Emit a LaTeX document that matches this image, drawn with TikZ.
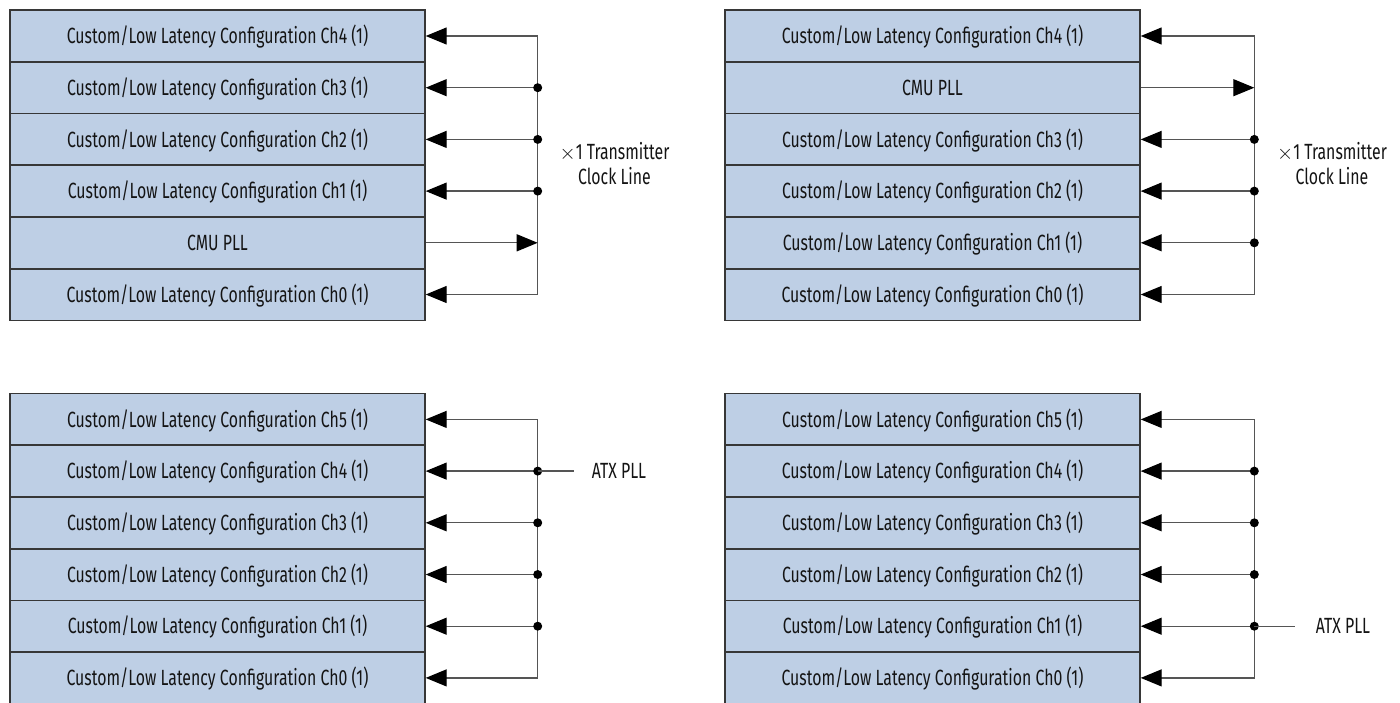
\documentclass[tikz,border=0pt]{standalone}
\usepackage{fontspec}
\setmainfont{Fira Sans}[FakeStretch=0.72]
\usetikzlibrary{arrows.meta}
\definecolor{cellblue}{RGB}{190,207,229}
\definecolor{edgegray}{RGB}{55,55,55}
\definecolor{wiregray}{RGB}{85,85,85}
\definecolor{inkblack}{RGB}{20,20,20}
\newcommand{\timessign}{\raisebox{0.5pt}{$\times$}}
\begin{document}
\begin{tikzpicture}[x=1pt,y=-1pt,
  cell/.style={draw=edgegray, line width=1.7pt, fill=cellblue,
    minimum width=414.7pt, minimum height=51.7pt, inner sep=0pt,
    text height=15.2pt, text depth=0pt, anchor=north west,
    font=\fontsize{22}{26}\selectfont, text=inkblack},
  lbl/.style={inner sep=0pt, font=\fontsize{22}{25}\selectfont, text=inkblack},
  wire/.style={draw=wiregray, line width=1.3pt},
  tipa/.tip={Triangle[length=21pt,width=17pt,fill=black,color=black]},
  junc/.style={circle, fill=black, inner sep=0pt, minimum size=9pt}]
\useasboundingbox (0,0) rectangle (1400,702);
\clip (0,0) rectangle (1400,702);
% ---------- top left ----------
\node[cell] (A4) at (9.3,9.3)   {Custom/Low Latency Configuration Ch4 (1)};
\node[cell] (A3) at (9.3,61.0)  {Custom/Low Latency Configuration Ch3 (1)};
\node[cell] (A2) at (9.3,112.7) {Custom/Low Latency Configuration Ch2 (1)};
\node[cell] (A1) at (9.3,164.4) {Custom/Low Latency Configuration Ch1 (1)};
\node[cell] (Ap) at (9.3,216.1) {CMU PLL};
\node[cell] (A0) at (9.3,267.8) {Custom/Low Latency Configuration Ch0 (1)};
\coordinate (busA) at (537.7,0);
\draw[wire,tipa-tipa] (A4.east) -- (A4.east -| busA) -- (A0.east -| busA) -- (A0.east);
\draw[wire,-tipa] (A3.east -| busA) -- (A3.east);
\draw[wire,-tipa] (A2.east -| busA) -- (A2.east);
\draw[wire,-tipa] (A1.east -| busA) -- (A1.east);
\draw[wire,-tipa] (Ap.east) -- (Ap.east -| busA);
\node[junc] (jA3) at (A3.east -| busA) {};
\node[junc] (jA2) at (A2.east -| busA) {};
\node[junc] (jA1) at (A1.east -| busA) {};
\node[lbl, align=center] (labA) at (614.5,164) {\timessign1 Transmitter\\Clock Line};
% ---------- top right ----------
\node[cell] (B4) at (724.3,9.3)   {Custom/Low Latency Configuration Ch4 (1)};
\node[cell] (Bp) at (724.3,61.0)  {CMU PLL};
\node[cell] (B3) at (724.3,112.7) {Custom/Low Latency Configuration Ch3 (1)};
\node[cell] (B2) at (724.3,164.4) {Custom/Low Latency Configuration Ch2 (1)};
\node[cell] (B1) at (724.3,216.1) {Custom/Low Latency Configuration Ch1 (1)};
\node[cell] (B0) at (724.3,267.8) {Custom/Low Latency Configuration Ch0 (1)};
\coordinate (busB) at (1254.3,0);
\draw[wire,tipa-tipa] (B4.east) -- (B4.east -| busB) -- (B0.east -| busB) -- (B0.east);
\draw[wire,-tipa] (Bp.east) -- (Bp.east -| busB);
\draw[wire,-tipa] (B3.east -| busB) -- (B3.east);
\draw[wire,-tipa] (B2.east -| busB) -- (B2.east);
\draw[wire,-tipa] (B1.east -| busB) -- (B1.east);
\node[junc] (jB3) at (B3.east -| busB) {};
\node[junc] (jB2) at (B2.east -| busB) {};
\node[junc] (jB1) at (B1.east -| busB) {};
\node[lbl, align=center] (labB) at (1332,164) {\timessign1 Transmitter\\Clock Line};
% ---------- bottom left ----------
\node[cell] (C5) at (9.3,392.7) {Custom/Low Latency Configuration Ch5 (1)};
\node[cell] (C4) at (9.3,444.4) {Custom/Low Latency Configuration Ch4 (1)};
\node[cell] (C3) at (9.3,496.1) {Custom/Low Latency Configuration Ch3 (1)};
\node[cell] (C2) at (9.3,547.8) {Custom/Low Latency Configuration Ch2 (1)};
\node[cell] (C1) at (9.3,599.5) {Custom/Low Latency Configuration Ch1 (1)};
\node[cell] (C0) at (9.3,651.2) {Custom/Low Latency Configuration Ch0 (1)};
\coordinate (busC) at (537.7,0);
\draw[wire,tipa-tipa] (C5.east) -- (C5.east -| busC) -- (C0.east -| busC) -- (C0.east);
\draw[wire,-tipa] (C4.east -| busC) -- (C4.east);
\draw[wire,-tipa] (C3.east -| busC) -- (C3.east);
\draw[wire,-tipa] (C2.east -| busC) -- (C2.east);
\draw[wire,-tipa] (C1.east -| busC) -- (C1.east);
\node[junc] (jC4) at (C4.east -| busC) {};
\node[junc] (jC3) at (C3.east -| busC) {};
\node[junc] (jC2) at (C2.east -| busC) {};
\node[junc] (jC1) at (C1.east -| busC) {};
\node[lbl, anchor=west] (atxC) at ([xshift=166pt]C4.east) {ATX PLL};
\coordinate (atxCend) at ([xshift=148pt]C4.east);
\draw[wire] (jC4.center) -- (atxCend);
% ---------- bottom right ----------
\node[cell] (D5) at (724.3,392.7) {Custom/Low Latency Configuration Ch5 (1)};
\node[cell] (D4) at (724.3,444.4) {Custom/Low Latency Configuration Ch4 (1)};
\node[cell] (D3) at (724.3,496.1) {Custom/Low Latency Configuration Ch3 (1)};
\node[cell] (D2) at (724.3,547.8) {Custom/Low Latency Configuration Ch2 (1)};
\node[cell] (D1) at (724.3,599.5) {Custom/Low Latency Configuration Ch1 (1)};
\node[cell] (D0) at (724.3,651.2) {Custom/Low Latency Configuration Ch0 (1)};
\coordinate (busD) at (1254.3,0);
\draw[wire,tipa-tipa] (D5.east) -- (D5.east -| busD) -- (D0.east -| busD) -- (D0.east);
\draw[wire,-tipa] (D4.east -| busD) -- (D4.east);
\draw[wire,-tipa] (D3.east -| busD) -- (D3.east);
\draw[wire,-tipa] (D2.east -| busD) -- (D2.east);
\draw[wire,-tipa] (D1.east -| busD) -- (D1.east);
\node[junc] (jD4) at (D4.east -| busD) {};
\node[junc] (jD3) at (D3.east -| busD) {};
\node[junc] (jD2) at (D2.east -| busD) {};
\node[junc] (jD1) at (D1.east -| busD) {};
\node[lbl, anchor=west] (atxD) at ([xshift=175pt]D1.east) {ATX PLL};
\coordinate (atxDend) at ([xshift=154pt]D1.east);
\draw[wire] (jD1.center) -- (atxDend);
\end{tikzpicture}
\end{document}
